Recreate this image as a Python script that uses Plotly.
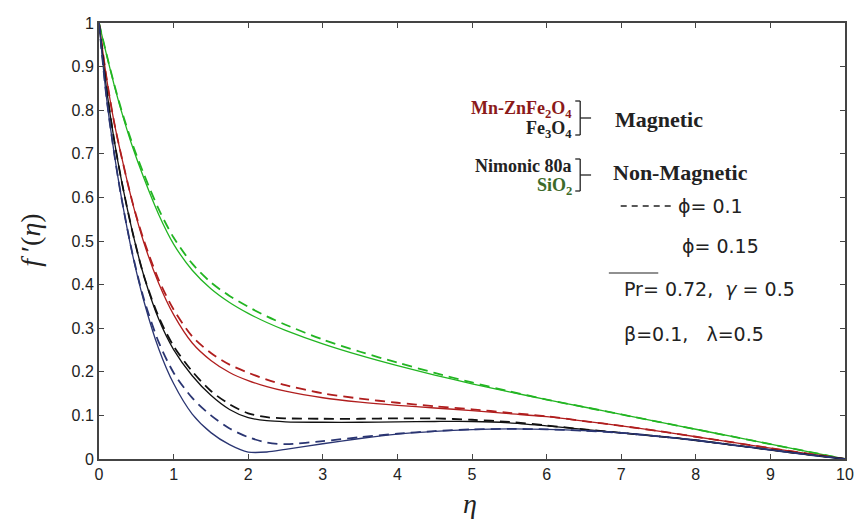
import plotly.graph_objects as go

eta = [0, 0.1, 0.2, 0.3, 0.45, 0.6, 0.8, 1.0, 1.25, 1.5, 1.75, 2.0, 2.25, 2.5,
       3.0, 3.5, 4.0, 4.5, 5.0, 5.5, 6.0, 6.5, 7.0, 7.5, 8.0, 8.5, 9.0, 9.5, 10.0]

# SiO2 (green)
sio2_015 = [1.0, 0.928, 0.86, 0.798, 0.7155, 0.645, 0.561, 0.493, 0.433, 0.3905, 0.359, 0.334, 0.313, 0.295,
            0.264, 0.2375, 0.214, 0.1925, 0.1725, 0.154, 0.1363, 0.1193, 0.1022, 0.0852, 0.0682, 0.0511, 0.0341, 0.017, 0.0]
sio2_01 = [1.0, 0.929, 0.862, 0.801, 0.7215, 0.654, 0.573, 0.508, 0.448, 0.405, 0.374, 0.349, 0.327, 0.308,
           0.274, 0.246, 0.221, 0.1975, 0.1755, 0.1555, 0.1363, 0.1193, 0.1022, 0.0852, 0.0682, 0.0511, 0.0341, 0.017, 0.0]
# Mn-ZnFe2O4 (red)
mnzn_015 = [1.0, 0.875, 0.775, 0.695, 0.587, 0.497, 0.403, 0.331, 0.266, 0.226, 0.1985, 0.1798, 0.166, 0.1555,
            0.1405, 0.1305, 0.123, 0.117, 0.111, 0.104, 0.097, 0.087, 0.076, 0.064, 0.051, 0.038, 0.025, 0.0125, 0.0]
mnzn_01 = [1.0, 0.875, 0.775, 0.695, 0.588, 0.502, 0.411, 0.343, 0.281, 0.243, 0.2165, 0.1978, 0.182, 0.1695,
           0.1505, 0.1385, 0.129, 0.121, 0.114, 0.106, 0.098, 0.087, 0.076, 0.064, 0.051, 0.038, 0.025, 0.0125, 0.0]
# Fe3O4 (black)
fe3o4_015 = [1.0, 0.85, 0.735, 0.64, 0.52, 0.421, 0.321, 0.251, 0.191, 0.146, 0.1135, 0.0948, 0.0878, 0.0853,
             0.0843, 0.0843, 0.0853, 0.086, 0.086, 0.083, 0.076, 0.068, 0.06, 0.052, 0.043, 0.032, 0.021, 0.01, 0.0]
fe3o4_01 = [1.0, 0.85, 0.735, 0.64, 0.52, 0.421, 0.326, 0.259, 0.201, 0.156, 0.1255, 0.1048, 0.0958, 0.0933,
            0.0923, 0.0923, 0.0933, 0.093, 0.09, 0.085, 0.077, 0.068, 0.06, 0.052, 0.043, 0.032, 0.021, 0.01, 0.0]
# Nimonic 80a (navy)
nim_015 = [1.0, 0.83, 0.705, 0.60, 0.468, 0.363, 0.253, 0.173, 0.103, 0.0605, 0.033, 0.016, 0.016, 0.022,
           0.035, 0.047, 0.057, 0.0635, 0.0675, 0.069, 0.068, 0.065, 0.06, 0.052, 0.043, 0.032, 0.021, 0.01, 0.0]
nim_01 = [1.0, 0.83, 0.705, 0.60, 0.47, 0.368, 0.268, 0.198, 0.14, 0.10, 0.07, 0.05, 0.038, 0.034,
          0.041, 0.05, 0.058, 0.064, 0.068, 0.069, 0.068, 0.065, 0.06, 0.052, 0.043, 0.032, 0.021, 0.01, 0.0]

series = [
    ("SiO2", "#22b522", sio2_01, sio2_015),
    ("Mn-ZnFe2O4", "#b01e1e", mnzn_01, mnzn_015),
    ("Fe3O4", "#111111", fe3o4_01, fe3o4_015),
    ("Nimonic 80a", "#2a3572", nim_01, nim_015),
]

x_ticks = list(range(0, 11))
y_ticks = [0, 0.1, 0.2, 0.3, 0.4, 0.5, 0.6, 0.7, 0.8, 0.9, 1.0]
y_ticktext = ["0", "0.1", "0.2", "0.3", "0.4", "0.5", "0.6", "0.7", "0.8", "0.9", "1"]

fig = go.Figure()
for name, col, y01, y015 in series:
    fig.add_trace(go.Scatter(x=eta, y=y015, mode="lines", name=name + " φ=0.15",
                             line=dict(color=col, width=1.3, shape="spline", smoothing=0.8)))
    fig.add_trace(go.Scatter(x=eta, y=y01, mode="lines", name=name + " φ=0.1",
                             line=dict(color=col, width=1.8, dash="10px,6px", shape="spline", smoothing=0.8)))

W, H = 866, 524
L, R, T, B = 99, 854, 23, 459


def px(x):
    return (x - L) / (R - L)


def py(y):
    return (B - y) / (B - T)


shapes = []
def seg(x0, y0, x1, y1, dash="solid", w=1.3, col="#222"):
    shapes.append(dict(type="line", xref="paper", yref="paper", x0=px(x0), y0=py(y0),
                       x1=px(x1), y1=py(y1), line=dict(color=col, width=w, dash=dash)))

# brackets
for (ytop, ybot) in [(101, 135), (159, 191)]:
    seg(586, ytop, 586, ybot)
    seg(581, ytop, 586, ytop)
    seg(581, ybot, 586, ybot)
    seg(586, (ytop + ybot) / 2, 597, (ytop + ybot) / 2)
# dashed sample for phi=0.1
seg(627, 206, 678, 206, dash="6px,5px", w=1.3)
# solid sample line
seg(615, 273, 665, 273, w=1.2)

annotations = []
def txt(x, y, s, anchor="left", size=17, family="Liberation Serif", col="#222", bold=False):
    if bold:
        s = "<b>" + s + "</b>"
    annotations.append(dict(xref="paper", yref="paper", x=px(x), y=py(y), text=s, showarrow=False,
                            xanchor=anchor, yanchor="middle", font=dict(family=family, size=size, color=col)))

txt(580, 109, "Mn-ZnFe<sub>2</sub>O<sub>4</sub>", anchor="right", size=18, col="#8b1a1a", bold=True)
txt(580, 129, "Fe<sub>3</sub>O<sub>4</sub>", anchor="right", size=18, col="#222", bold=True)
txt(619, 119, "Magnetic", size=22, bold=True)
txt(580, 166, "Nimonic 80a", anchor="right", size=18, col="#222", bold=True)
txt(580, 186, "SiO<sub>2</sub>", anchor="right", size=18, col="#3d6b2a", bold=True)
txt(617, 172, "Non-Magnetic", size=22, bold=True)
txt(683, 206, "ϕ= 0.1", size=19, family="DejaVu Sans")
txt(687, 246, "ϕ= 0.15", size=19, family="DejaVu Sans")
txt(628, 289, "Pr= 0.72,  <i>γ</i> = 0.5", size=19, family="DejaVu Sans")
txt(628, 334, "β=0.1,   λ=0.5", size=19, family="DejaVu Sans")
# axis titles
annotations.append(dict(xref="paper", yref="paper", x=px(30), y=py(240), text="<i>f</i> ′(<i>η</i>)",
                        showarrow=False, textangle=-90, xanchor="center", yanchor="middle",
                        font=dict(family="Liberation Serif", size=28, color="#222")))
annotations.append(dict(xref="paper", yref="paper", x=px(474), y=py(503), text="<i>η</i>",
                        showarrow=False, xanchor="center", yanchor="middle",
                        font=dict(family="Liberation Serif", size=28, color="#222")))

axis_common = dict(showgrid=False, zeroline=False, showline=True, linecolor="#444", linewidth=2,
                   mirror="ticks", ticks="inside", ticklen=5, tickwidth=1.3, tickcolor="#444",
                   tickfont=dict(family="Liberation Sans", size=16, color="#222"))

fig.update_layout(
    width=W, height=H,
    margin=dict(l=L, r=W - R, t=T, b=H - B),
    paper_bgcolor="white", plot_bgcolor="white",
    showlegend=False,
    xaxis=dict(range=[0, 10], tickvals=x_ticks, **axis_common),
    yaxis=dict(range=[0, 1], tickvals=y_ticks, ticktext=y_ticktext, **axis_common),
    shapes=shapes, annotations=annotations,
)

fig.write_html("out.html")
